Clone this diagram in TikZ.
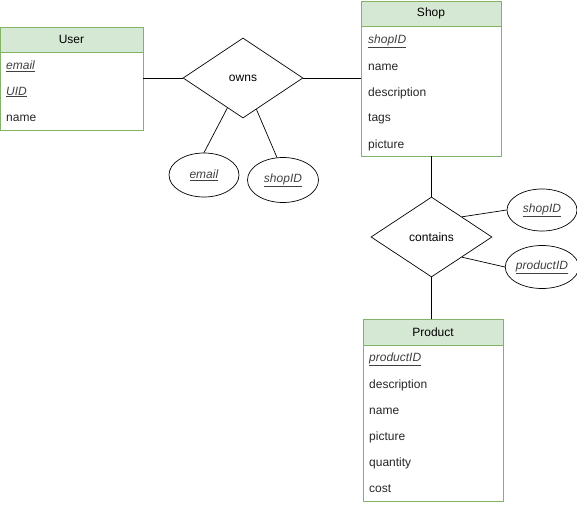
\documentclass[tikz,border=0pt]{standalone}
\usepackage{fontspec}
\setmainfont{Liberation Sans}
\usetikzlibrary{shapes.geometric}
\definecolor{headfill}{HTML}{D5E8D4}
\definecolor{headline}{HTML}{82B366}
\newcommand{\keyattr}[1]{\textcolor{black!75}{\underline{\textit{#1}}}}
\tikzset{
  table/.style={draw=headline, line width=0.8pt, inner sep=0pt},
  tablehead/.style={draw=headline, fill=headfill, line width=0.8pt, inner sep=0pt},
  attr/.style={anchor=west, inner sep=0pt, text=black!85},
  relation/.style={diamond, draw, line width=0.7pt, inner sep=0pt},
  keyoval/.style={ellipse, draw, line width=0.7pt, inner sep=0pt, minimum width=70pt, minimum height=44pt},
  link/.style={line width=0.7pt}
}
\begin{document}
\begin{tikzpicture}[x=1pt, y=-1pt, font=\fontsize{12}{14}\selectfont]
  \useasboundingbox (0,0) rectangle (577,505);

  % tables
  \node[table, minimum width=143pt, minimum height=103pt] (user) at (71.5,78.5) {};
  \node[tablehead, minimum width=143pt, minimum height=25pt] (userhead) at (71.5,39.5) {User};
  \foreach \t [count=\i] in {\keyattr{email}, \keyattr{UID}, name}
    \node[attr] (userrow\i) at (6,40+26*\i) {\t};

  \node[table, minimum width=140pt, minimum height=155pt] (shop) at (431,78.5) {};
  \node[tablehead, minimum width=140pt, minimum height=25pt] (shophead) at (431,13.5) {Shop};
  \foreach \t [count=\i] in {\keyattr{shopID}, name, description, tags, picture}
    \node[attr] (shoprow\i) at (368,15+26*\i) {\t};

  \node[table, minimum width=140pt, minimum height=182pt] (product) at (433,410) {};
  \node[tablehead, minimum width=140pt, minimum height=26pt] (producthead) at (433,332) {Product};
  \foreach \t [count=\i] in {\keyattr{productID}, description, name, picture, quantity, cost}
    \node[attr] (productrow\i) at (369,333+26*\i) {\t};

  % relations
  \node[relation, minimum width=120pt, minimum height=80pt] (owns) at (243,78) {owns};
  \node[relation, minimum width=121pt, minimum height=80pt] (contains) at (431.5,237) {contains};

  \node[keyoval] (owns email) at (204,175) {\keyattr{email}};
  \node[keyoval, minimum width=71pt, minimum height=45pt] (owns shop) at (283,180) {\keyattr{shopID}};
  \node[keyoval, minimum height=42pt] (contains shop) at (542,210) {\keyattr{shopID}};
  \node[keyoval, minimum height=43pt] (contains product) at (542,267) {\keyattr{productID}};

  \draw[link] (user.east |- owns) -- (owns.west);
  \draw[link] (owns.east) -- (shop.west |- owns);
  \draw[link] (owns) -- (owns email.north);
  \draw[link] (owns) -- (owns shop.105);
  \draw[link] (contains.north |- shop.south) -- (contains.north);
  \draw[link] (contains.south) -- (contains.south |- product.north);
  \draw[link] (contains.north east) -- (contains shop.west);
  \draw[link] (contains.south east) -- (contains product.west);

\end{tikzpicture}
\end{document}
